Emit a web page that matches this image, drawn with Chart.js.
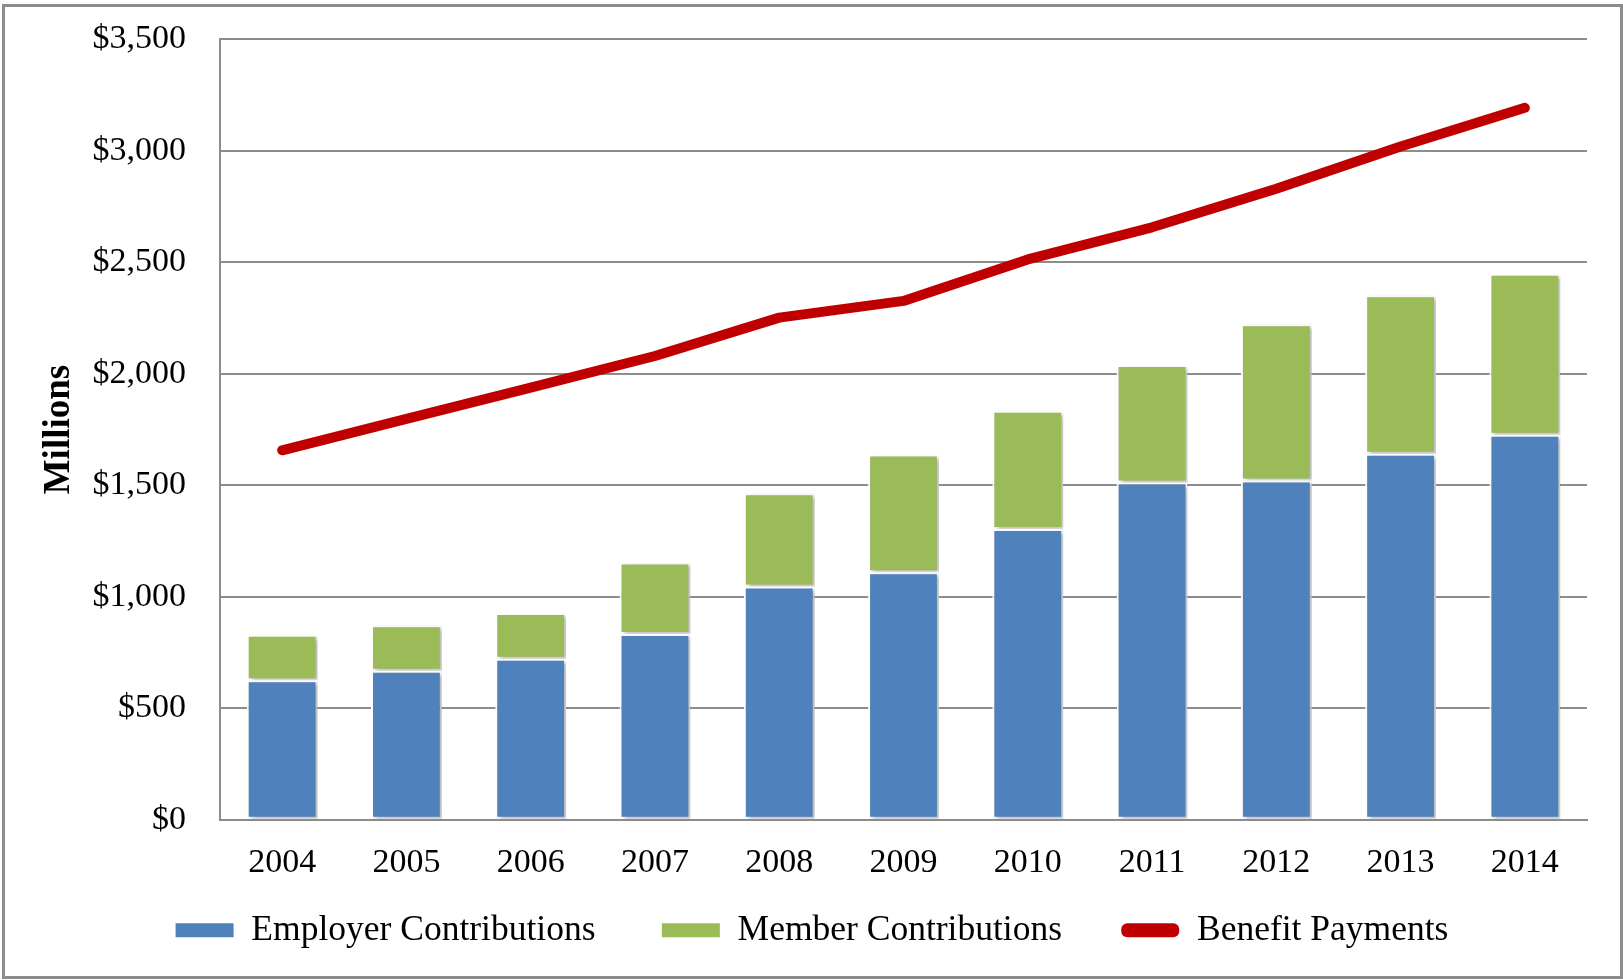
<!DOCTYPE html>
<html>
<head>
<meta charset="utf-8">
<script src="https://cdn.jsdelivr.net/npm/chart.js@4.4.1/dist/chart.umd.min.js"></script>
<style>
  html, body { margin: 0; padding: 0; background: #fff; }
  #box { position: absolute; left: 0; top: 0; width: 1623px; height: 980px; }
</style>
</head>
<body>
<div id="box"><canvas id="chart"></canvas></div>
<script>
// values in $ millions
const years = ['2004', '2005', '2006', '2007', '2008', '2009', '2010', '2011', '2012', '2013', '2014'];
const employer = [625, 668, 722, 833, 1046, 1110, 1304, 1512, 1522, 1642, 1727];
const member = [205, 204, 205, 321, 418, 528, 530, 528, 700, 710, 722];
const benefits = [1657, 1798, 1938, 2080, 2252, 2327, 2513, 2657, 2830, 3020, 3193];

const serif = "'Liberation Serif', 'Times New Roman', serif";

// white page + grey frame around the whole chart
const frame = {
    id: 'frame',
    beforeDraw(chart) {
        const c = chart.ctx;
        c.save();
        c.fillStyle = '#fff';
        c.fillRect(0, 0, chart.width, chart.height);
        c.strokeStyle = '#8c8c8c';
        c.lineWidth = 3;
        c.strokeRect(3.5, 5.5, chart.width - 5, chart.height - 8);
        c.restore();
    }
};

// soft drop shadow on the bar stacks
const barShadow = {
    id: 'barShadow',
    beforeDatasetDraw(chart, args) {
        if (args.meta.type !== 'bar') return;
        const c = chart.ctx;
        c.save();
        c.shadowColor = 'rgba(0,0,0,0.28)';
        c.shadowBlur = 4;
        c.shadowOffsetX = 3;
        c.shadowOffsetY = 2;
    },
    afterDatasetDraw(chart, args) {
        if (args.meta.type !== 'bar') return;
        chart.ctx.restore();
    }
};

const ctx = document.getElementById('chart').getContext('2d');

const chart = new Chart(ctx, {
    type: 'bar',
    data: {
        labels: years,
        datasets: [
            {
                label: 'Employer Contributions',
                data: employer,
                backgroundColor: '#4F81BD',
                borderColor: '#ffffff',
                borderWidth: 2,
                borderSkipped: false,
                stack: 'c'
            },
            {
                label: 'Member Contributions',
                data: member,
                backgroundColor: '#9BBB59',
                borderColor: '#ffffff',
                borderWidth: 2,
                borderSkipped: false,
                stack: 'c'
            },
            {
                type: 'line',
                label: 'Benefit Payments',
                data: benefits,
                borderColor: '#C00000',
                backgroundColor: '#C00000',
                borderWidth: 10,
                borderCapStyle: 'round',
                borderJoinStyle: 'round',
                pointRadius: 0,
                tension: 0,
                fill: false
            }
        ]
    },
    options: {
        responsive: true,
        maintainAspectRatio: false,
        animation: false,
        categoryPercentage: 1,
        barPercentage: 0.57,
        layout: {
            padding: { left: 37, right: 36, top: 39, bottom: 22 }
        },
        scales: {
            x: {
                stacked: true,
                grid: { display: false, drawTicks: false },
                border: { display: true, color: '#8c8c8c', width: 2 },
                ticks: {
                    color: '#000',
                    padding: 23,
                    font: { family: serif, size: 34 }
                }
            },
            y: {
                stacked: true,
                min: 0,
                max: 3500,
                afterFit(scale) { scale.width = 183; },
                // invisible tick marks keep the labels off the axis without
                // inflating the top padding
                grid: { color: '#8c8c8c', lineWidth: 2, drawTicks: true, tickLength: 15, tickColor: 'rgba(0,0,0,0)' },
                border: { display: true, color: '#8c8c8c', width: 2 },
                ticks: {
                    stepSize: 500,
                    color: '#000',
                    padding: 19,
                    font: { family: serif, size: 34 },
                    callback: (v) => '$' + v.toLocaleString('en-US')
                },
                title: {
                    display: true,
                    text: 'Millions',
                    color: '#000',
                    padding: 0,
                    font: { family: serif, size: 37, weight: 'bold' }
                }
            }
        },
        plugins: {
            tooltip: { enabled: false },
            legend: {
                position: 'bottom',
                labels: {
                    color: '#000',
                    boxWidth: 58,
                    boxHeight: 14,
                    padding: 6,
                    useBorderRadius: true,
                    font: { family: serif, size: 35.5 },
                    generateLabels(chart) {
                        const items = Chart.defaults.plugins.legend.labels.generateLabels(chart);
                        items.forEach((it, i) => {
                            const ds = chart.data.datasets[it.datasetIndex];
                            const col = ds.type === 'line' ? ds.borderColor : ds.backgroundColor;
                            it.fillStyle = col;
                            it.strokeStyle = col;
                            it.lineWidth = 0;
                            it.borderRadius = ds.type === 'line' ? 6 : 0;
                            // wider gap between legend entries than the vertical padding
                            if (i === 0) it.text += '\u2003\u2002\u2009';
                            else if (i < items.length - 1) it.text += '\u2003\u2002';
                        });
                        return items;
                    }
                }
            }
        }
    },
    plugins: [frame, barShadow]
});
</script>
</body>
</html>
